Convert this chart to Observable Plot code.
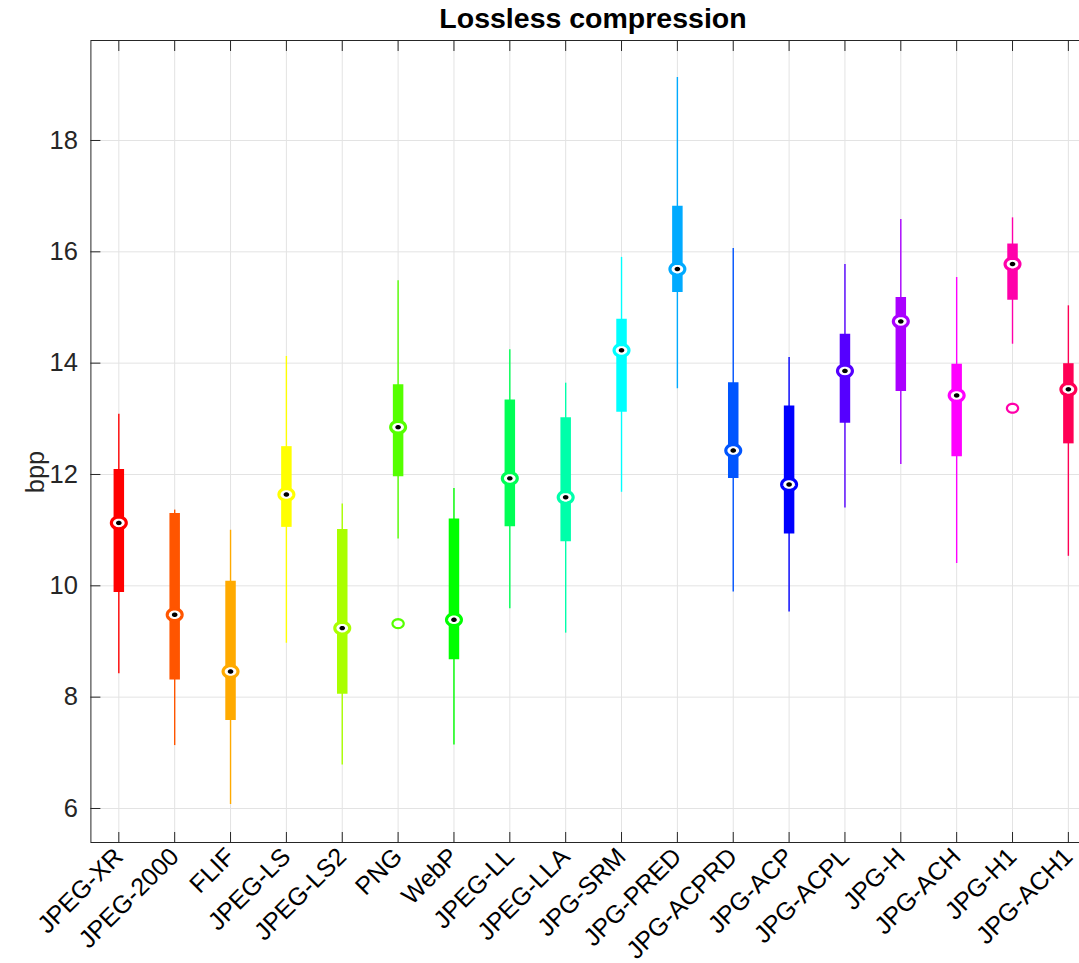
<!DOCTYPE html>
<html><head><meta charset="utf-8">
<script src="https://cdn.jsdelivr.net/npm/d3@7"></script>
<script src="https://cdn.jsdelivr.net/npm/@observablehq/plot@0.6"></script>
<style>
body{margin:0;background:#fff;font-family:"Liberation Sans",Arial,Helvetica,sans-serif;}
#wrap{position:relative;width:1079px;height:963px;overflow:hidden;background:#fff;}
#title{position:absolute;z-index:2;top:4px;left:593px;transform:translateX(-50%);font-weight:bold;font-size:28.5px;line-height:28px;white-space:nowrap;color:#000;}
#ylabel{position:absolute;z-index:2;left:35px;top:472px;transform:translate(-50%,-50%) rotate(-90deg);font-size:25.5px;line-height:26px;color:#262626;white-space:nowrap;}
#chart{position:absolute;z-index:1;top:30px;left:0;}
</style></head><body>
<div id="wrap"><div id="chart"></div><div id="title">Lossless compression</div><div id="ylabel">bpp</div></div>
<script>
const codecs = ["JPEG-XR","JPEG-2000","FLIF","JPEG-LS","JPEG-LS2","PNG","WebP","JPEG-LL","JPEG-LLA","JPG-SRM","JPG-PRED","JPG-ACPRD","JPG-ACP","JPG-ACPL","JPG-H","JPG-ACH","JPG-H1","JPG-ACH1"];
const colors = ["#ff0000","#ff5500","#ffaa00","#ffff00","#aaff00","#55ff00","#00ff00","#00ff55","#00ffaa","#00ffff","#00aaff","#0055ff","#0000ff","#5500ff","#aa00ff","#ff00ff","#ff00aa","#ff0055"];
const whiskerLow  = [8.42, 7.13, 6.07, 8.97, 6.78, 10.84, 7.14, 9.59, 9.15, 11.68, 13.54, 9.89, 9.53, 11.40, 12.18, 10.40, 14.34, 10.53];
const q1          = [9.88, 8.31, 7.58, 11.05, 8.05, 11.96, 8.67, 11.06, 10.79, 13.12, 15.27, 11.93, 10.93, 12.92, 13.49, 12.32, 15.13, 12.55];
const medians     = [11.13, 9.48, 8.46, 11.64, 9.24, 12.85, 9.39, 11.93, 11.59, 14.23, 15.69, 12.43, 11.82, 13.86, 14.75, 13.42, 15.78, 13.53];
const q3          = [12.09, 11.30, 10.08, 12.50, 11.01, 13.61, 11.20, 13.34, 13.02, 14.79, 16.82, 13.65, 13.23, 14.52, 15.18, 13.98, 16.14, 13.99];
const whiskerHigh = [13.08, 11.36, 11.00, 14.12, 11.47, 15.48, 11.75, 14.24, 13.64, 15.90, 19.13, 16.06, 14.10, 15.77, 16.58, 15.54, 16.61, 15.03];
const outlierCodecs = ["PNG", "JPG-H1"];
const outlierValues = [9.32, 13.19];
const yTicks = [6, 8, 10, 12, 14, 16, 18];
const yDomain = [5.389, 19.796];

const rows = codecs.map((c, i) => ({codec: c, lo: whiskerLow[i], q1: q1[i], med: medians[i], q3: q3[i], hi: whiskerHigh[i]}));
const outliers = outlierCodecs.map((c, i) => ({codec: c, v: outlierValues[i]}));

// slightly wide ellipse marker (as in the reference rendering)
const ellipse = {
  draw(ctx, size) {
    const r = Math.sqrt(size / Math.PI), rx = r * 1.22, ry = r * 0.97, n = 28;
    for (let k = 0; k < n; k++) {
      const a = 2 * Math.PI * k / n;
      const px = rx * Math.cos(a), py = ry * Math.sin(a);
      k ? ctx.lineTo(px, py) : ctx.moveTo(px, py);
    }
    ctx.closePath();
  }
};

const font = "Liberation Sans, Arial, Helvetica, sans-serif";
const chart = Plot.plot({
  width: 1079, height: 933,
  marginLeft: 90.4, marginRight: -16.8, marginTop: 10, marginBottom: 121,
  style: {fontFamily: font, fontSize: "25px", color: "#262626", background: "transparent", overflow: "visible"},
  x: {type: "point", domain: codecs, padding: 0.5, round: false, label: null},
  y: {domain: yDomain, label: null},
  color: {domain: codecs, range: colors},
  marks: [
    Plot.gridX(codecs, {stroke: "#e3e3e3", strokeOpacity: 1}),
    Plot.gridY(yTicks, {stroke: "#e3e3e3", strokeOpacity: 1}),
    Plot.ruleX(rows, {x: "codec", y1: "lo", y2: "hi", stroke: "codec", strokeWidth: 1.4}),
    Plot.ruleX(rows, {x: "codec", y1: "q1", y2: "q3", stroke: "codec", strokeWidth: 10.5}),
    Plot.dot(outliers, {x: "codec", y: "v", symbol: ellipse, r: 4.6, fill: "white", stroke: "codec", strokeWidth: 2.2}),
    Plot.dot(rows, {x: "codec", y: "med", symbol: ellipse, r: 6.1, fill: "white", stroke: "codec", strokeWidth: 3.2}),
    Plot.dot(rows, {x: "codec", y: "med", symbol: ellipse, r: 2.3, fill: "black", stroke: "none"}),
    Plot.frame({stroke: "#262626", strokeWidth: 1}),
    Plot.axisY(yTicks, {anchor: "left", tickSize: -10, tickPadding: 23, tickFormat: d => String(d), stroke: "#262626", fill: "#262626", fontSize: 25.5, fontFamily: font, label: null}),
    Plot.axisX(codecs, {anchor: "bottom", tickSize: -10, tickPadding: 20, tickRotate: -45, stroke: "#262626", fill: "#000", fontSize: 25, fontFamily: font, label: null}),
    Plot.axisX(codecs, {anchor: "top", tickSize: -10, tickFormat: () => "", stroke: "#262626", label: null})
  ]
});
document.getElementById("chart").appendChild(chart);
</script>
</body></html>
